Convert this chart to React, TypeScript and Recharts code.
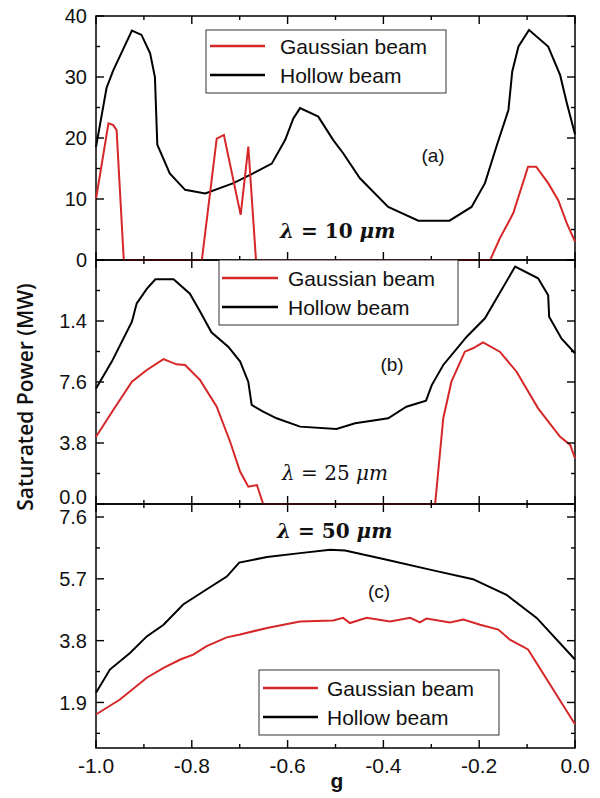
import React from 'react';
import { LineChart, Line, XAxis, YAxis, ReferenceArea } from 'recharts';

// ---------- data (g, saturated power) ----------
const hollowA: number[][] = [
  [-1.0, 18.5], [-0.978, 28.2], [-0.964, 31.1], [-0.925, 37.6], [-0.905, 36.9], [-0.887, 33.9],
  [-0.877, 30.0], [-0.872, 18.9], [-0.846, 14.2], [-0.814, 11.5], [-0.772, 10.9], [-0.713, 12.6],
  [-0.672, 14.2], [-0.633, 15.8], [-0.605, 19.7], [-0.588, 23.2], [-0.574, 24.9], [-0.536, 23.5],
  [-0.505, 19.7], [-0.484, 17.5], [-0.449, 13.4], [-0.39, 8.7], [-0.327, 6.45], [-0.262, 6.45],
  [-0.216, 8.7], [-0.188, 12.6], [-0.164, 18.6], [-0.139, 24.6], [-0.131, 30.9], [-0.118, 35.0],
  [-0.096, 37.7], [-0.056, 35.0], [-0.031, 30.3], [-0.017, 25.7], [0.0, 20.6],
];
const gaussA: number[][] = [
  [-1.0, 10.0], [-0.974, 22.4], [-0.964, 22.1], [-0.957, 21.3], [-0.942, 0], [-0.779, 0],
  [-0.748, 19.9], [-0.733, 20.5], [-0.698, 7.4], [-0.682, 18.6], [-0.666, 0], [-0.177, 0],
  [-0.157, 3.55], [-0.129, 7.65], [-0.098, 15.3], [-0.081, 15.3], [-0.056, 12.6], [-0.035, 9.8],
  [-0.017, 6.0], [0.0, 3.0],
];
const hollowB: number[][] = [
  [-1.0, 7.2], [-0.967, 8.87], [-0.925, 11.36], [-0.915, 12.5], [-0.894, 13.4], [-0.876, 14.0],
  [-0.838, 14.0], [-0.804, 13.1], [-0.783, 12.0], [-0.759, 10.7], [-0.724, 9.8], [-0.699, 8.87],
  [-0.682, 7.6], [-0.675, 6.17], [-0.651, 5.75], [-0.623, 5.34], [-0.574, 4.82], [-0.498, 4.67],
  [-0.459, 5.03], [-0.39, 5.34], [-0.352, 6.06], [-0.311, 6.44], [-0.299, 7.41], [-0.275, 8.66],
  [-0.226, 10.42], [-0.188, 11.57], [-0.125, 14.79], [-0.077, 14.06], [-0.056, 13.0], [-0.054, 11.67],
  [-0.028, 10.3], [0.0, 9.39],
];
const gaussB: number[][] = [
  [-1.0, 4.19], [-0.964, 5.86], [-0.925, 7.62], [-0.894, 8.35], [-0.859, 9.03], [-0.832, 8.7],
  [-0.814, 8.66], [-0.783, 7.73], [-0.748, 6.06], [-0.72, 3.88], [-0.699, 2.01], [-0.682, 1.08],
  [-0.664, 1.18], [-0.651, 0], [-0.292, 0], [-0.275, 5.34], [-0.258, 7.62], [-0.23, 9.49],
  [-0.213, 9.7], [-0.192, 10.07], [-0.157, 9.49], [-0.122, 8.24], [-0.077, 5.96], [-0.031, 4.19],
  [-0.01, 3.68], [0.0, 2.85],
];
const hollowC: number[][] = [
  [-1.0, 2.2], [-0.971, 2.91], [-0.929, 3.42], [-0.894, 3.93], [-0.859, 4.29], [-0.818, 4.91],
  [-0.776, 5.31], [-0.727, 5.77], [-0.701, 6.2], [-0.643, 6.37], [-0.574, 6.49], [-0.511, 6.59],
  [-0.48, 6.57], [-0.4, 6.31], [-0.296, 5.96], [-0.213, 5.69], [-0.143, 5.21], [-0.08, 4.5], [0.0, 3.22],
];
const gaussC: number[][] = [
  [-1.0, 1.53], [-0.95, 1.99], [-0.894, 2.66], [-0.859, 2.96], [-0.824, 3.22], [-0.797, 3.37],
  [-0.769, 3.63], [-0.727, 3.9], [-0.699, 3.99], [-0.643, 4.19], [-0.574, 4.39], [-0.505, 4.42],
  [-0.484, 4.5], [-0.47, 4.34], [-0.435, 4.5], [-0.386, 4.39], [-0.344, 4.5], [-0.324, 4.36],
  [-0.31, 4.48], [-0.261, 4.36], [-0.233, 4.45], [-0.198, 4.29], [-0.16, 4.14], [-0.136, 3.83],
  [-0.098, 3.53], [0.0, 1.23],
];

// ---------- axes ----------
const xTicks = [-1.0, -0.9, -0.8, -0.7, -0.6, -0.5, -0.4, -0.3, -0.2, -0.1, 0.0];
const yTicksA = [0, 5, 10, 15, 20, 25, 30, 35, 40];
const yLabelsA: (string | null)[] = ['0', null, '10', null, '20', null, '30', null, '40'];
const yTicksB = [0, 1.9, 3.8, 5.7, 7.6, 9.5, 11.4, 13.3, 15.2];
const yLabelsB: (string | null)[] = ['0.0', null, '3.8', null, '7.6', null, '1.4', null, ''];
const yTicksC = [0.95, 1.9, 2.85, 3.8, 4.75, 5.7, 6.65, 7.6];
const yLabelsC: (string | null)[] = [null, '1.9', null, '3.8', null, '5.7', null, '7.6'];

const legendNames = ['Gaussian beam', 'Hollow beam'];
const lambdaValues = ['10', '25', '50'];
const panelNames = ['(a)', '(b)', '(c)'];

// ---------- layout ----------
const W = 600;
const H = 798;
const PLOT_LEFT = 96;
const PLOT_RIGHT = 575;
const PW = PLOT_RIGHT - PLOT_LEFT;
const PH = 244;
const RED = '#d62728';
const SANS = '"Liberation Sans", Arial, sans-serif';
const SERIF = '"DejaVu Serif", "Liberation Serif", serif';

const toPts = (arr: number[][]) => arr.map(([g, p]) => ({ g, p }));

const renderXTick = (props: any, showLabels: boolean) => {
  const { x, y, payload } = props;
  const v = payload.value as number;
  const major = Math.round(Math.abs(v) * 10) % 2 === 0;
  const len = major ? 8 : 4;
  return (
    <g>
      <line x1={x} y1={y} x2={x} y2={y - len} stroke="#000" strokeWidth={1.4} />
      <line x1={x} y1={y - PH} x2={x} y2={y - PH + len} stroke="#000" strokeWidth={1.4} />
      {showLabels && major ? (
        <text x={x} y={y + 25} textAnchor="middle" fontFamily={SANS} fontSize={21} fill="#111">
          {v.toFixed(1)}
        </text>
      ) : null}
    </g>
  );
};

const renderYTick = (props: any, ticks: number[], labels: (string | null)[], lift: number) => {
  const { x, y, payload } = props;
  const idx = ticks.indexOf(payload.value);
  const label = idx >= 0 ? labels[idx] : null;
  const major = label !== null;
  const len = major ? 8 : 4;
  const shift = idx === 0 ? lift : 0;
  return (
    <g>
      <line x1={x} y1={y} x2={x + len} y2={y} stroke="#000" strokeWidth={1.4} />
      <line x1={x + PW} y1={y} x2={x + PW - len} y2={y} stroke="#000" strokeWidth={1.4} />
      {label ? (
        <text x={x - 9} y={y - shift} dy="0.36em" textAnchor="end" fontFamily={SANS} fontSize={20} fill="#111">
          {label}
        </text>
      ) : null}
    </g>
  );
};

type PanelProps = {
  top: number;
  domain: [number, number];
  ticks: number[];
  labels: (string | null)[];
  showX: boolean;
  hollow: number[][];
  gauss: number[][];
  lift: number;
};

function Panel({ top, domain, ticks, labels, showX, hollow, gauss, lift }: PanelProps) {
  const bottom = top + PH;
  return (
    <div style={{ position: 'absolute', left: 0, top: 0 }}>
      <LineChart
        width={W}
        height={H}
        margin={{ top, right: W - PLOT_RIGHT, bottom: H - bottom - 1, left: PLOT_LEFT - 1 }}
      >
        <XAxis
          type="number"
          dataKey="g"
          domain={[-1, 0]}
          ticks={xTicks}
          interval={0}
          height={1}
          tickSize={0}
          tickMargin={0}
          axisLine={false}
          tickLine={false}
          tick={(p: any) => renderXTick(p, showX)}
        />
        <YAxis
          type="number"
          dataKey="p"
          domain={domain}
          ticks={ticks}
          interval={0}
          width={1}
          tickSize={0}
          tickMargin={0}
          axisLine={false}
          tickLine={false}
          tick={(p: any) => renderYTick(p, ticks, labels, lift)}
        />
        <ReferenceArea
          x1={-1}
          x2={0}
          y1={domain[0]}
          y2={domain[1]}
          fill="none"
          fillOpacity={0}
          stroke="#000"
          strokeWidth={1.5}
          ifOverflow="visible"
        />
        <Line
          data={toPts(hollow)}
          dataKey="p"
          type="linear"
          stroke="#000"
          strokeWidth={2}
          dot={false}
          isAnimationActive={false}
        />
        <Line
          data={toPts(gauss)}
          dataKey="p"
          type="linear"
          stroke={RED}
          strokeWidth={2}
          dot={false}
          isAnimationActive={false}
        />
      </LineChart>
    </div>
  );
}

function LegendBox({ x, y, w, h, lineX1, lineX2, row1, row2, textX }: any) {
  return (
    <g>
      <rect x={x} y={y} width={w} height={h} fill="#fff" stroke="#333" strokeWidth={1} />
      <line x1={lineX1} x2={lineX2} y1={row1} y2={row1} stroke={RED} strokeWidth={2.5} />
      <line x1={lineX1} x2={lineX2} y1={row2} y2={row2} stroke="#000" strokeWidth={2.5} />
      <text x={textX} y={row1} dy="0.36em" fontFamily={SANS} fontSize={21} fill="#111">
        {legendNames[0]}
      </text>
      <text x={textX} y={row2} dy="0.36em" fontFamily={SANS} fontSize={21} fill="#111">
        {legendNames[1]}
      </text>
    </g>
  );
}

function Lambda({ x, y, value, bold }: { x: number; y: number; value: string; bold: boolean }) {
  return (
    <text x={x} y={y} fontFamily={SERIF} fontSize={20} fill="#111" fontWeight={bold ? 'bold' : 'normal'}>
      <tspan fontStyle="italic">λ</tspan>
      <tspan> = </tspan>
      <tspan>{value}</tspan>
      <tspan> </tspan>
      <tspan fontStyle="italic">μm</tspan>
    </text>
  );
}

export default function App() {
  return (
    <div style={{ position: 'absolute', left: 0, top: 0, width: W, height: H, background: '#fff' }}>
      <Panel top={16} domain={[0, 40]} ticks={yTicksA} labels={yLabelsA} showX={false} hollow={hollowA} gauss={gaussA} lift={0} />
      <Panel top={260} domain={[0, 15.2]} ticks={yTicksB} labels={yLabelsB} showX={false} hollow={hollowB} gauss={gaussB} lift={7} />
      <Panel top={504} domain={[0.5, 8.0]} ticks={yTicksC} labels={yLabelsC} showX={true} hollow={hollowC} gauss={gaussC} lift={0} />
      <svg width={W} height={H} style={{ position: 'absolute', left: 0, top: 0, pointerEvents: 'none' }}>
        <LegendBox x={206} y={30} w={240} h={63} lineX1={210} lineX2={265} row1={46} row2={75} textX={280} />
        <LegendBox x={219} y={260} w={239} h={65} lineX1={222} lineX2={278} row1={278} row2={307} textX={288} />
        <LegendBox x={259} y={670} w={240} h={65} lineX1={263} lineX2={318} row1={688} row2={717} textX={327} />

        <text x={433} y={162} textAnchor="middle" fontFamily={SANS} fontSize={19} fill="#111">{panelNames[0]}</text>
        <text x={392} y={371} textAnchor="middle" fontFamily={SANS} fontSize={19} fill="#111">{panelNames[1]}</text>
        <text x={379} y={598} textAnchor="middle" fontFamily={SANS} fontSize={19} fill="#111">{panelNames[2]}</text>

        <Lambda x={280} y={238} value={lambdaValues[0]} bold={true} />
        <Lambda x={282} y={480} value={lambdaValues[1]} bold={false} />
        <Lambda x={277} y={538} value={lambdaValues[2]} bold={true} />

        <text
          x={0}
          y={0}
          transform="translate(33 397) rotate(-90)"
          textAnchor="middle"
          fontFamily='"Open Sans", sans-serif'
          fontWeight={600}
          fontSize={21}
          fill="#111"
        >
          Saturated Power (MW)
        </text>
        <text x={337} y={788} textAnchor="middle" fontFamily={SANS} fontWeight="bold" fontSize={21} fill="#111">
          g
        </text>
      </svg>
    </div>
  );
}
